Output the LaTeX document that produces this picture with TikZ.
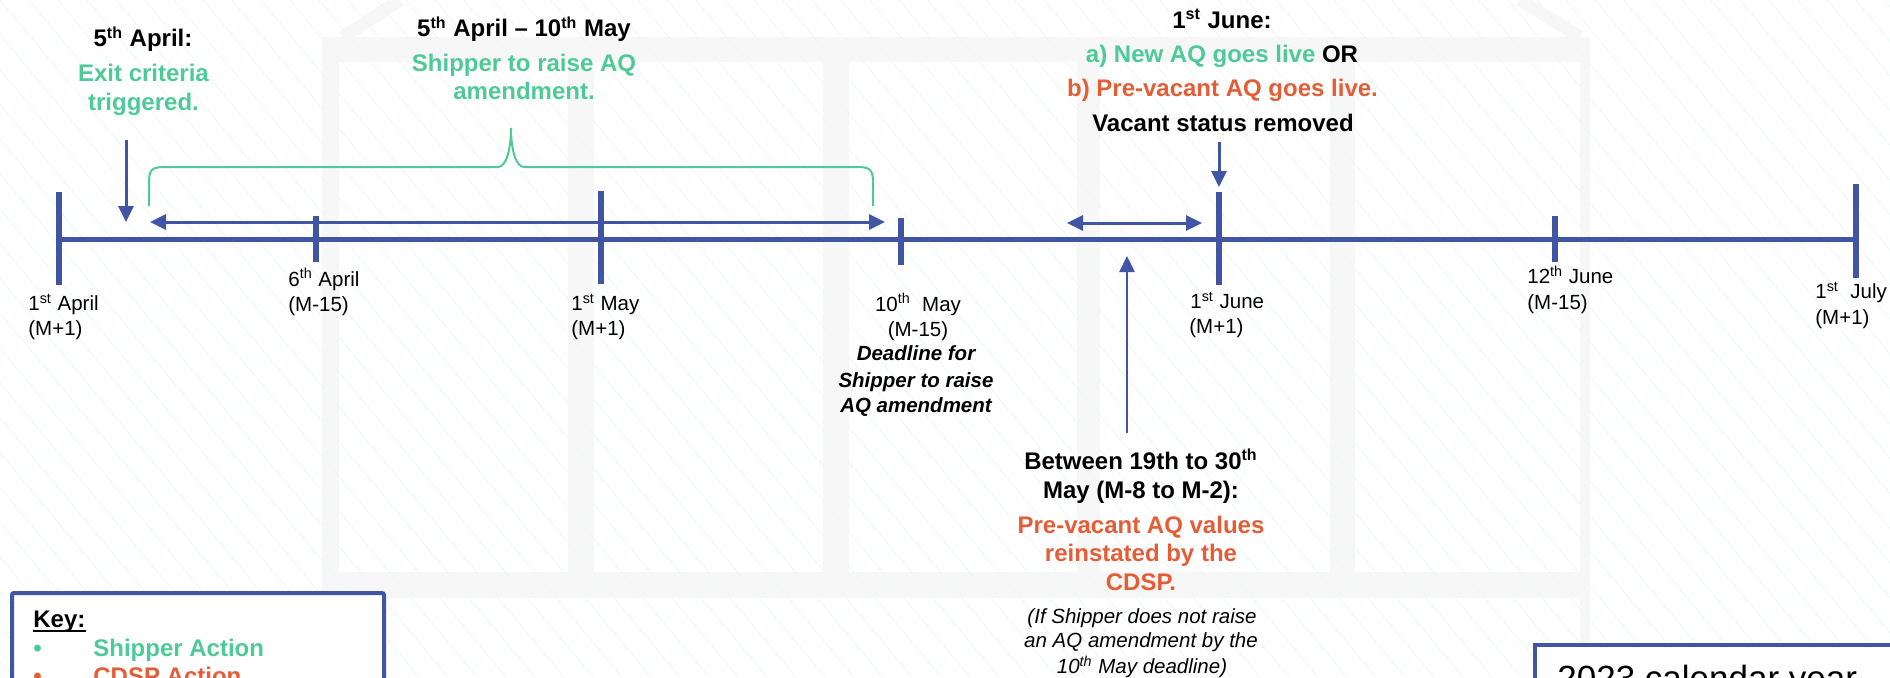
\documentclass[tikz,border=0pt]{standalone}
\usepackage{fontspec}
\setmainfont{Liberation Sans}
\usetikzlibrary{arrows.meta}
\definecolor{tblue}{RGB}{64,86,165}
\definecolor{sgreen}{RGB}{78,201,152}
\definecolor{corange}{RGB}{228,93,54}
\definecolor{bggray}{RGB}{247,247,247}
\definecolor{hatchc}{RGB}{238,249,246}
\newcommand\myhd{\fontsize{12}{14}\selectfont\bfseries}
\newcommand\mylab{\fontsize{10.25}{12}\selectfont}
\newcommand\myit{\fontsize{10.25}{12}\selectfont\itshape}
\newcommand\mybit{\fontsize{10.25}{12}\selectfont\bfseries\itshape}
\newcommand\mybig{\fontsize{17.5}{20}\selectfont}
\begin{document}
\begin{tikzpicture}[x=0.5pt,y=-0.5pt,
  hd/.style={font=\myhd, inner sep=0pt, anchor=base},
  lab/.style={font=\mylab, inner sep=0pt, anchor=base west},
  labc/.style={font=\mylab, inner sep=0pt, anchor=base},
  itx/.style={font=\myit, inner sep=0pt, anchor=base},
  bitx/.style={font=\mybit, inner sep=0pt, anchor=base},
  keytxt/.style={font=\myhd, inner sep=0pt, anchor=base west},
  tline/.style={draw=tblue, line width=2.8pt},
  tickmark/.style={draw=tblue, line width=2.6pt},
  arr/.style={draw=tblue, line width=1.5pt, -{Triangle[length=8pt,width=7.5pt]}},
  darr/.style={draw=tblue, line width=1.5pt, {Triangle[length=8pt,width=7.5pt]}-{Triangle[length=8pt,width=7.5pt]}},
  brace/.style={draw=sgreen, line width=1pt},
  keybox/.style={draw=tblue, line width=2pt, fill=white}]
\useasboundingbox (0,0) rectangle (1890,677);
\clip (0,0) rectangle (1890,677);
% background building
\fill[bggray] (322,37) rectangle (1590,62);
\fill[bggray] (322,62) rectangle (339,598);
\fill[bggray] (1580,62) rectangle (1590,677);
\fill[bggray] (339,572) rectangle (1580,598);
\foreach \a/\b in {568/594, 823/849, 1077/1100, 1330/1355}
  \fill[bggray] (\a,62) rectangle (\b,572);
\draw[bggray, line width=6.5pt] (343,37) -- (400,0);
\draw[bggray, line width=6.5pt] (1520,0) -- (1580,37);
% hatching
\foreach \i in {-20,...,66}
  \draw[hatchc, line width=0.5pt] (\i*29,0) -- (\i*29+564,677);
% timeline
\coordinate (tlstart) at (59,239.5);
\coordinate (tlend) at (1856,239.5);
\draw[tline] (tlstart) -- (tlend);
\draw[tickmark] (59,192) -- (59,285);
\draw[tickmark] (316,216) -- (316,262);
\draw[tickmark] (601,191) -- (601,284);
\draw[tickmark] (901,218) -- (901,265);
\draw[tickmark] (1219,192) -- (1219,285);
\draw[tickmark] (1555,216) -- (1555,262);
\draw[tickmark] (1856,184) -- (1856,278);
% arrows
\coordinate (a5s) at (126,140); \coordinate (a5e) at (126,222);
\draw[arr] (a5s) -- (a5e);
\coordinate (rgL) at (150,222); \coordinate (rgR) at (885,222);
\draw[darr] (rgL) -- (rgR);
\coordinate (ajs) at (1219,142); \coordinate (aje) at (1219,187);
\draw[arr] (ajs) -- (aje);
\coordinate (mdL) at (1067,223); \coordinate (mdR) at (1202,223);
\draw[darr] (mdL) -- (mdR);
\coordinate (ups) at (1127,433); \coordinate (upe) at (1127,256);
\draw[arr, line width=1.25pt] (ups) -- (upe);
% brace
\draw[brace] (149,206) -- (149,182) .. controls (149,170) and (152,167) .. (164,167)
  -- (498,167) .. controls (506,167) and (511,150) .. (511,128)
  .. controls (511,150) and (516,167) .. (524,167)
  -- (858,167) .. controls (870,167) and (873,170) .. (873,182) -- (873,206);
% headings
\node[hd] (t5apr) at (143,46.7) {5\textsuperscript{th} April:};
\node[hd, text=sgreen] (exit1) at (143.5,81.7) {Exit criteria};
\node[hd, text=sgreen] (exit2) at (143.5,110.7) {triggered.};
\node[hd] (range) at (524,36.7) {5\textsuperscript{th} April – 10\textsuperscript{th} May};
\node[hd, text=sgreen] (raise1) at (524,71.7) {Shipper to raise AQ};
\node[hd, text=sgreen] (raise2) at (524,99.3) {amendment.};
\node[hd] (jun1) at (1222,28.3) {1\textsuperscript{st} June:};
\node[hd] (jun2) at (1222,62.7) {\textcolor{sgreen}{a) New AQ goes live} OR};
\node[hd, text=corange] (jun3) at (1222.5,96.7) {b) Pre-vacant AQ goes live.};
\node[hd] (jun4) at (1223,131.7) {Vacant status removed};
\node[hd] (btw1) at (1141,469.3) {Between 19th to 30\textsuperscript{th}};
\node[hd] (btw2) at (1141,498.3) {May (M-8 to M-2):};
\node[hd, text=corange] (pv1) at (1141,533.3) {Pre-vacant AQ values};
\node[hd, text=corange] (pv2) at (1141,561.7) {reinstated by the};
\node[hd, text=corange] (pv3) at (1141,590) {CDSP.};
\node[itx] (if1) at (1142,623.3) {(If Shipper does not raise};
\node[itx] (if2) at (1141,647.3) {an AQ amendment by the};
\node[itx] (if3) at (1142,673.3) {10\textsuperscript{th} May deadline)};
\node[bitx] (dl1) at (916,360.7) {Deadline for};
\node[bitx] (dl2) at (916,387.3) {Shipper to raise};
\node[bitx] (dl3) at (916,412.7) {AQ amendment};
% timeline labels
\node[lab] (l1a) at (28,310.7) {1\textsuperscript{st} April};
\node[lab] (l1b) at (28,335) {(M+1)};
\node[lab] (l2a) at (288,286) {6\textsuperscript{th} April};
\node[lab] (l2b) at (288,311.7) {(M-15)};
\node[lab] (l3a) at (571,310.7) {1\textsuperscript{st} May};
\node[lab] (l3b) at (571,335) {(M+1)};
\node[labc] (l4a) at (918,311) {10\textsuperscript{th}~ May};
\node[labc] (l4b) at (918,336) {(M-15)};
\node[lab] (l5a) at (1190,308.3) {1\textsuperscript{st} June};
\node[lab] (l5b) at (1189,333) {(M+1)};
\node[lab] (l6a) at (1527,283.3) {12\textsuperscript{th} June};
\node[lab] (l6b) at (1527,309.3) {(M-15)};
\node[lab] (l7a) at (1815,298.3) {1\textsuperscript{st}~ July};
\node[lab] (l7b) at (1815,324) {(M+1)};
% key box
\draw[keybox, rounded corners=1pt] (12,593) rectangle (384,720);
\node[keytxt] (key) at (33,627) {Key:};
\draw[line width=1pt] ([yshift=-2pt]key.base west) -- ([yshift=-2pt]key.base east);
\node[keytxt, text=sgreen] (b1) at (33,656) {\textbullet};
\node[keytxt, text=sgreen] (k1) at (93,656) {Shipper Action};
\node[keytxt, text=corange] (b2) at (33,684) {\textbullet};
\node[keytxt, text=corange] (k2) at (93,684) {CDSP Action};
% calendar box
\draw[keybox] (1535,645) rectangle (1960,760);
\node[font=\mybig, inner sep=0pt, anchor=base west] (cal) at (1557,690) {2023 calendar year};
\end{tikzpicture}
\end{document}
